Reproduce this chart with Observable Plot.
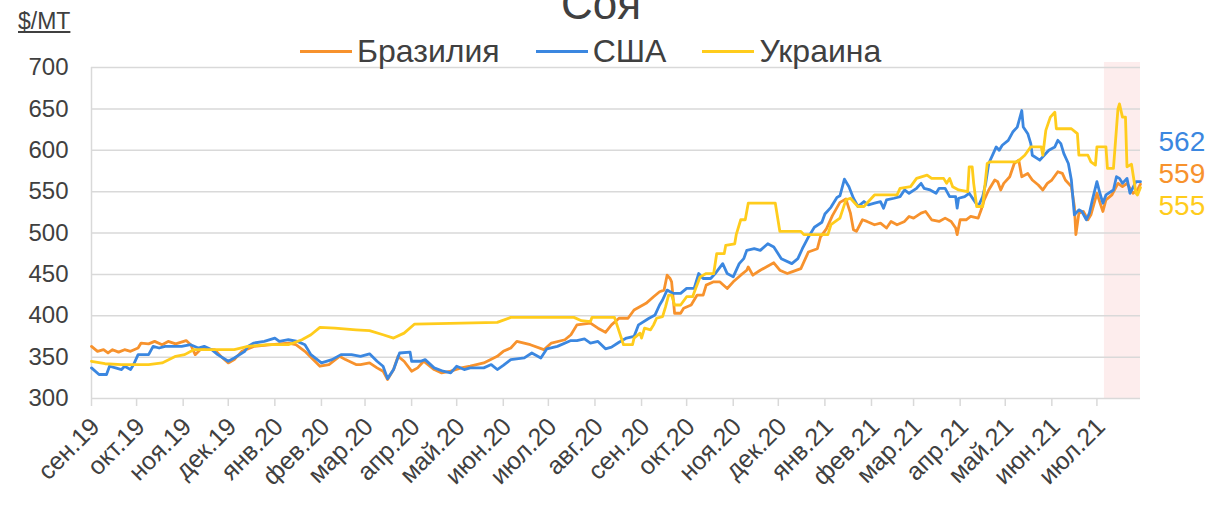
<!DOCTYPE html>
<html><head><meta charset="utf-8">
<script src="https://cdn.jsdelivr.net/npm/d3@7"></script>
<script src="https://cdn.jsdelivr.net/npm/@observablehq/plot@0.6"></script>
<style>
body{margin:0;background:#fff;font-family:"Liberation Sans",Arial,sans-serif;color:#404040;}
#wrap{position:relative;width:1216px;height:505px;overflow:hidden;}
#title{position:absolute;left:-7px;width:1216px;top:-18px;text-align:center;font-size:44px;line-height:44px;color:#404040;}
#unit{position:absolute;left:18px;top:8px;font-size:23px;line-height:26px;text-decoration:underline;color:#404040;}
#legend{position:absolute;left:300px;top:35px;display:flex;gap:36px;font-size:32px;line-height:32px;color:#404040;}
.item{display:flex;align-items:center;gap:5px;}
.sw{width:52px;height:3px;}
#chart{position:absolute;left:0;top:0;}
</style></head>
<body><div id="wrap">
<div id="chart"></div>
<div id="title"></div>
<div id="unit"></div>
<div id="legend"></div>
</div>
<script>
const titleText = "Соя";
const unitText = "$/MT";
const seriesNames = ["Бразилия", "США", "Украина"];
const seriesColors = ["#f7922d", "#3b87e0", "#ffcc1c"];
const yTicks = [300, 350, 400, 450, 500, 550, 600, 650, 700];
const monthLabels = ["сен.19","окт.19","ноя.19","дек.19","янв.20","фев.20","мар.20","апр.20","май.20","июн.20","июл.20","авг.20","сен.20","окт.20","ноя.20","дек.20","янв.21","фев.21","мар.21","апр.21","май.21","июн.21","июл.21"];
const monthDates = ["2019-09-01","2019-10-01","2019-11-01","2019-12-01","2020-01-01","2020-02-01","2020-03-01","2020-04-01","2020-05-01","2020-06-01","2020-07-01","2020-08-01","2020-09-01","2020-10-01","2020-11-01","2020-12-01","2021-01-01","2021-02-01","2021-03-01","2021-04-01","2021-05-01","2021-06-01","2021-07-01"];
const xDomain = ["2019-09-01", "2021-07-30"];
const highlight = ["2021-07-06", "2021-07-30"];

const brazilDates = ["2019-09-01","2019-09-05","2019-09-09","2019-09-12","2019-09-15","2019-09-19","2019-09-23","2019-09-27","2019-10-02","2019-10-04","2019-10-09","2019-10-13","2019-10-18","2019-10-22","2019-10-27","2019-11-03","2019-11-06","2019-11-09","2019-11-13","2019-11-22","2019-11-26","2019-12-01","2019-12-05","2019-12-10","2019-12-18","2019-12-30","2020-01-10","2020-01-15","2020-01-21","2020-01-31","2020-02-06","2020-02-13","2020-02-17","2020-02-24","2020-02-27","2020-03-04","2020-03-09","2020-03-13","2020-03-16","2020-03-20","2020-03-23","2020-03-27","2020-04-01","2020-04-05","2020-04-09","2020-04-16","2020-04-21","2020-04-27","2020-05-04","2020-05-10","2020-05-19","2020-05-28","2020-06-01","2020-06-06","2020-06-10","2020-06-19","2020-06-28","2020-07-03","2020-07-12","2020-07-16","2020-07-20","2020-07-29","2020-08-03","2020-08-08","2020-08-12","2020-08-17","2020-08-23","2020-08-27","2020-09-04","2020-09-09","2020-09-13","2020-09-16","2020-09-18","2020-09-20","2020-09-21","2020-09-23","2020-09-27","2020-09-29","2020-10-04","2020-10-08","2020-10-12","2020-10-14","2020-10-19","2020-10-23","2020-10-28","2020-11-01","2020-11-06","2020-11-10","2020-11-11","2020-11-14","2020-11-19","2020-11-28","2020-12-02","2020-12-07","2020-12-10","2020-12-16","2020-12-21","2020-12-27","2020-12-29","2021-01-02","2021-01-06","2021-01-11","2021-01-15","2021-01-18","2021-01-20","2021-01-22","2021-01-26","2021-01-29","2021-02-03","2021-02-07","2021-02-11","2021-02-14","2021-02-18","2021-02-23","2021-02-26","2021-03-01","2021-03-06","2021-03-09","2021-03-13","2021-03-18","2021-03-22","2021-03-26","2021-03-29","2021-03-30","2021-04-01","2021-04-05","2021-04-08","2021-04-13","2021-04-15","2021-04-17","2021-04-20","2021-04-24","2021-04-26","2021-04-28","2021-04-30","2021-05-04","2021-05-07","2021-05-10","2021-05-12","2021-05-16","2021-05-19","2021-05-23","2021-05-26","2021-05-29","2021-06-01","2021-06-05","2021-06-08","2021-06-10","2021-06-14","2021-06-16","2021-06-17","2021-06-19","2021-06-22","2021-06-25","2021-06-27","2021-07-01","2021-07-05","2021-07-07","2021-07-11","2021-07-15","2021-07-18","2021-07-21","2021-07-25","2021-07-28","2021-07-30"];
const brazilValues = [363,357,359,355,359,356,359,357,361,367,366,369,365,369,366,370,365,353,360,359,351,343,347,357,363,365,367,365,357,339,341,351,347,341,341,343,337,333,323,335,351,345,333,337,345,335,331,333,337,339,343,351,357,361,369,365,359,367,371,377,389,391,385,380,389,397,397,407,415,423,429,431,449,445,441,403,403,409,413,425,425,437,441,441,433,441,449,455,459,449,455,464,455,451,453,457,477,481,495,505,521,537,541,524,504,502,516,514,510,512,506,514,510,514,520,518,524,526,516,514,518,514,506,498,516,516,520,518,528,540,552,564,562,552,560,568,584,588,568,572,564,558,552,560,564,574,572,564,556,532,498,524,526,516,522,548,526,540,546,560,556,560,548,552,559];

const usaDates = ["2019-09-01","2019-09-06","2019-09-11","2019-09-13","2019-09-17","2019-09-21","2019-09-23","2019-09-27","2019-09-29","2019-10-02","2019-10-09","2019-10-12","2019-10-16","2019-10-20","2019-10-31","2019-11-06","2019-11-11","2019-11-15","2019-11-20","2019-11-24","2019-12-01","2019-12-05","2019-12-12","2019-12-14","2019-12-18","2019-12-25","2020-01-01","2020-01-04","2020-01-10","2020-01-16","2020-01-21","2020-01-25","2020-02-01","2020-02-08","2020-02-14","2020-02-21","2020-02-27","2020-03-04","2020-03-09","2020-03-13","2020-03-16","2020-03-20","2020-03-24","2020-03-31","2020-04-01","2020-04-07","2020-04-10","2020-04-16","2020-04-22","2020-04-27","2020-05-01","2020-05-06","2020-05-10","2020-05-19","2020-05-24","2020-05-28","2020-06-01","2020-06-06","2020-06-15","2020-06-20","2020-06-26","2020-06-30","2020-07-07","2020-07-16","2020-07-20","2020-07-25","2020-07-29","2020-08-03","2020-08-08","2020-08-12","2020-08-17","2020-08-22","2020-08-27","2020-08-30","2020-09-06","2020-09-10","2020-09-13","2020-09-15","2020-09-18","2020-09-22","2020-09-27","2020-10-01","2020-10-06","2020-10-09","2020-10-12","2020-10-17","2020-10-20","2020-10-25","2020-10-28","2020-11-01","2020-11-05","2020-11-08","2020-11-10","2020-11-15","2020-11-19","2020-11-24","2020-11-28","2020-12-03","2020-12-10","2020-12-14","2020-12-17","2020-12-21","2020-12-25","2020-12-30","2021-01-01","2021-01-05","2021-01-09","2021-01-11","2021-01-14","2021-01-17","2021-01-20","2021-01-23","2021-01-27","2021-01-30","2021-02-03","2021-02-07","2021-02-09","2021-02-11","2021-02-16","2021-02-20","2021-02-23","2021-02-26","2021-03-03","2021-03-06","2021-03-08","2021-03-12","2021-03-16","2021-03-18","2021-03-22","2021-03-25","2021-03-29","2021-03-30","2021-03-31","2021-04-04","2021-04-07","2021-04-10","2021-04-13","2021-04-16","2021-04-18","2021-04-20","2021-04-23","2021-04-25","2021-04-27","2021-04-29","2021-05-03","2021-05-06","2021-05-09","2021-05-12","2021-05-13","2021-05-16","2021-05-18","2021-05-19","2021-05-24","2021-05-28","2021-05-30","2021-06-03","2021-06-05","2021-06-07","2021-06-09","2021-06-12","2021-06-14","2021-06-16","2021-06-19","2021-06-21","2021-06-24","2021-06-26","2021-06-28","2021-07-01","2021-07-03","2021-07-05","2021-07-07","2021-07-12","2021-07-14","2021-07-16","2021-07-18","2021-07-21","2021-07-23","2021-07-27","2021-07-30"];
const usaValues = [337,329,329,339,337,335,339,335,341,353,353,363,361,363,363,365,361,363,359,353,345,349,357,363,367,369,373,369,371,369,365,353,343,347,353,353,351,354,345,339,324,335,355,356,345,345,347,337,333,331,339,335,337,337,341,335,340,347,349,355,349,360,363,370,370,372,367,369,360,362,368,373,375,389,397,401,413,419,431,427,427,433,433,451,445,445,451,463,451,447,463,469,479,481,479,487,483,469,463,469,481,495,507,513,523,531,543,545,565,556,542,532,538,534,536,538,530,540,542,544,552,548,554,560,554,552,548,554,554,544,544,530,542,544,548,540,532,544,560,584,596,604,600,606,612,622,628,648,628,620,608,594,588,596,600,604,612,608,596,584,564,522,528,526,516,524,540,562,548,536,546,552,568,566,560,566,548,562,562];

const ukraineDates = ["2019-09-01","2019-09-10","2019-09-21","2019-10-09","2019-10-18","2019-10-27","2019-11-02","2019-11-08","2019-12-05","2019-12-14","2019-12-27","2020-01-10","2020-01-19","2020-01-25","2020-01-31","2020-02-10","2020-02-24","2020-03-04","2020-03-13","2020-03-20","2020-03-27","2020-04-03","2020-05-28","2020-06-06","2020-07-18","2020-07-23","2020-07-29","2020-07-30","2020-08-14","2020-08-20","2020-08-26","2020-08-27","2020-08-31","2020-09-01","2020-09-03","2020-09-07","2020-09-09","2020-09-11","2020-09-15","2020-09-17","2020-09-19","2020-09-21","2020-09-23","2020-09-27","2020-10-01","2020-10-05","2020-10-07","2020-10-10","2020-10-14","2020-10-19","2020-10-21","2020-10-26","2020-10-27","2020-11-02","2020-11-03","2020-11-06","2020-11-09","2020-11-11","2020-11-29","2020-12-02","2020-12-16","2020-12-18","2021-01-03","2021-01-05","2021-01-11","2021-01-15","2021-01-18","2021-01-21","2021-01-23","2021-01-27","2021-01-30","2021-02-03","2021-02-18","2021-02-20","2021-02-27","2021-03-03","2021-03-10","2021-03-13","2021-03-21","2021-03-23","2021-03-25","2021-03-27","2021-03-31","2021-04-06","2021-04-07","2021-04-09","2021-04-10","2021-04-12","2021-04-16","2021-04-19","2021-04-21","2021-05-09","2021-05-14","2021-05-18","2021-05-25","2021-05-26","2021-05-28","2021-05-31","2021-06-03","2021-06-04","2021-06-14","2021-06-18","2021-06-19","2021-06-25","2021-06-27","2021-06-30","2021-07-01","2021-07-07","2021-07-08","2021-07-12","2021-07-15","2021-07-16","2021-07-18","2021-07-20","2021-07-21","2021-07-24","2021-07-27","2021-07-28","2021-07-30"];
const ukraineValues = [345,342,341,341,343,351,353,359,359,363,365,365,371,377,386,385,383,382,377,373,379,390,392,398,398,394,393,398,398,365,365,373,379,373,385,383,389,397,399,411,425,425,413,413,423,423,433,447,451,451,475,475,485,487,498,516,516,536,536,502,502,498,498,510,518,540,542,536,532,532,538,546,546,554,556,566,570,566,566,560,566,556,552,550,580,580,560,532,532,584,586,586,594,604,604,594,624,640,646,626,626,620,594,594,586,582,604,604,578,578,650,656,640,640,580,583,548,546,555];

const labelOffsets = [-10, -40, 19];

const seriesDates = [brazilDates, usaDates, ukraineDates];
const seriesValues = [brazilValues, usaValues, ukraineValues];
const rows = [];
seriesNames.forEach((name, s) => {
  seriesDates[s].forEach((d, i) => rows.push({series: name, date: new Date(d), value: seriesValues[s][i]}));
});
const labelMap = new Map(monthDates.map((d, i) => [+new Date(d), monthLabels[i]]));
const lastPoints = seriesNames.map((name, s) => ({series: name, date: new Date(seriesDates[s][seriesDates[s].length - 1]), value: seriesValues[s][seriesValues[s].length - 1]}));

const textMarks = lastPoints.map((p, s) => Plot.text([p], {x: "date", y: "value", text: d => String(d.value), fill: seriesColors[s], dx: 18, dy: labelOffsets[s], textAnchor: "start", fontSize: 28}));

const chart = Plot.plot({
  width: 1216, height: 505,
  marginLeft: 91, marginRight: 76, marginTop: 67, marginBottom: 107,
  style: {fontFamily: "'Liberation Sans', Arial, sans-serif", color: "#404040", background: "transparent", overflow: "visible"},
  x: {type: "utc", domain: xDomain.map(d => new Date(d))},
  y: {domain: [yTicks[0], yTicks[yTicks.length - 1]]},
  color: {domain: seriesNames, range: seriesColors},
  marks: [
    Plot.rect([{x1: new Date(highlight[0]), x2: new Date(highlight[1])}], {x1: "x1", x2: "x2", y1: 300, y2: 706, fill: "#fdeded"}),
    Plot.gridY({ticks: yTicks, stroke: "#d9d9d9", strokeOpacity: 1, strokeWidth: 1.5}),
    Plot.ruleX([new Date(xDomain[0])], {stroke: "#d9d9d9", strokeWidth: 1.5}),
    Plot.axisY({ticks: yTicks, tickSize: 0, tickPadding: 23, fontSize: 24, label: null}),
    Plot.axisX({ticks: monthDates.map(d => new Date(d)), tickSize: 8, stroke: "#d9d9d9", strokeWidth: 1.5, text: null, label: null}),
    Plot.axisX({ticks: monthDates.map(d => new Date(d)), tickFormat: d => labelMap.get(+d), tickRotate: -45, tickSize: 0, tickPadding: 24, dx: 4, fontSize: 25, label: null}),
    Plot.lineY(rows, {x: "date", y: "value", z: "series", stroke: "series", strokeWidth: 2.8}),
    ...textMarks
  ]
});
document.getElementById("chart").appendChild(chart);
document.getElementById("title").textContent = titleText;
document.getElementById("unit").textContent = unitText;
const legend = document.getElementById("legend");
seriesNames.forEach((n, i) => {
  const it = document.createElement("div"); it.className = "item";
  const sw = document.createElement("span"); sw.className = "sw"; sw.style.background = seriesColors[i];
  const tx = document.createElement("span"); tx.textContent = n;
  it.appendChild(sw); it.appendChild(tx); legend.appendChild(it);
});
</script>
</body></html>
